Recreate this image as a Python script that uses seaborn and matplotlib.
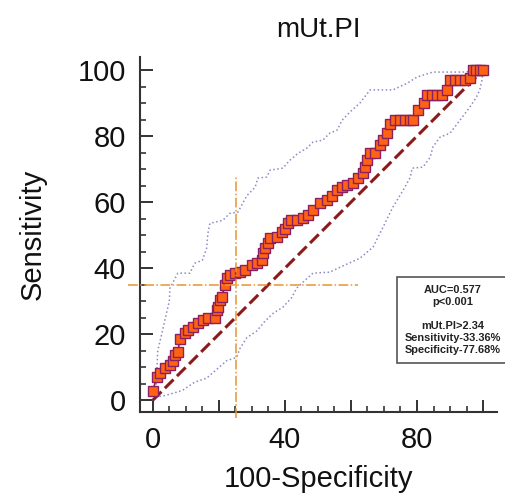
import matplotlib
matplotlib.use("Agg")
import matplotlib.pyplot as plt
from matplotlib.ticker import MultipleLocator
import pandas as pd
import seaborn as sns

# ROC curve points (100-Specificity, Sensitivity)
roc_x = [0, 0, 0, 0, 1.2, 2.1, 3.6, 5.2, 6, 6.7, 7.6, 8.2, 8.2, 8.2, 9.7, 10.6, 12.1,
         13.6, 15.2, 16.7, 18.8, 19.4, 19.7, 20.3, 20.9, 21.8, 21.8, 22.4, 23.3, 24.8,
         26.4, 27.9, 30, 31.5, 33, 33.3, 33.9, 34.8, 35.5, 37.6, 39, 40, 41, 42, 43.6,
         45.5, 47, 48.5, 50.6, 52.7, 54.2, 55.8, 57.3, 58.8, 60.6, 62, 63.6, 64.2, 65,
         65.8, 67.3, 68.8, 69.7, 71, 71.8, 71.8, 73.3, 74.8, 76.3, 77.8, 78.8, 80.3,
         82, 83, 84.5, 86, 87.5, 89, 89, 90, 91.5, 93, 94.5, 96, 96, 97, 98, 99, 100]
roc_y = [0, 2, 4, 5.5, 7, 8.2, 9.7, 10.6, 12, 13.6, 14.5, 16.7, 18.8, 20.3, 20.3, 21.2, 22.1,
         23.3, 24.2, 24.8, 24.8, 27.3, 28.2, 30.3, 31.2, 33.9, 35.8, 37, 37.9, 38.5,
         38.8, 39.4, 40.9, 41.5, 42.4, 44.5, 46, 47.6, 49, 49.4, 51, 52, 53.6, 54.5, 54.5,
         55.2, 56, 57.6, 59.7, 60.6, 62, 63.6, 64.5, 65.2, 65.8, 67.3, 68.8, 70.6, 72.7,
         74.8, 75, 77.3, 78.8, 80.9, 82.7, 84.8, 84.8, 84.8, 84.8, 84.8, 84.8, 88,
         90, 92.4, 92.4, 92.4, 92.4, 92.4, 95.5, 97, 97, 97, 97, 97, 98.5, 100, 100, 100, 100]

# confidence bounds
upper_x = [0, 1, 1.5, 2.7, 3.6, 5, 5.2, 6, 7.6, 11.2, 12.7, 15, 16.3, 16.7, 17.3, 21.2,
           23.3, 25.8, 28.5, 31, 31.8, 34.5, 35.5, 39.4, 41.5, 44, 46.7, 48.5, 51.5,
           53.6, 55.8, 57.3, 59.7, 62.7, 65.8, 72.7, 77, 80, 84.8, 94, 100]
upper_y = [0, 3, 15, 20, 24, 30, 34, 35.5, 38.5, 38.5, 41.5, 42.4, 46, 50.6, 53.6, 54.5,
           56.6, 57, 62, 64.5, 67.3, 67.6, 69.7, 70.3, 72.7, 74.8, 76.4, 78.2, 78.8,
           80.9, 81.8, 84.8, 87.3, 90, 94, 94, 96, 97.9, 99.4, 99.4, 100]
lower_x = [0, 1, 4, 9, 12.7, 16.3, 22.4, 25.4, 26.4, 28.5, 31.5, 34, 36.4, 39.4, 42,
           43.6, 45.5, 48.5, 53.6, 56.7, 62.7, 66.7, 69.7, 72.7, 75.8, 78, 78.5, 81.8,
           84, 84.8, 87, 90, 93, 96, 98, 99, 99.7, 100]
lower_y = [0, 1, 1.5, 3, 5.5, 6.7, 12, 13, 15.7, 19, 21, 24, 26.3, 28.2, 31,
           34, 35.8, 38.5, 38.8, 40.3, 43, 46.4, 52.4, 58.5, 63.6, 67.6, 70.3, 70.6,
           73.6, 76.7, 79.7, 80.9, 84.8, 88.8, 91.8, 94, 97, 100]

# optimal cut-off crosshair
cut_x = 25.3
cut_y = 34.8
vline_span = [-5.5, 68]
hline_span = [-7.5, 62]

title = "mUt.PI"
stats_text = ("AUC=0.577\np<0.001\n\nmUt.PI>2.34\n"
              "Sensitivity-33.36%\nSpecificity-77.68%")

sns.set_style("ticks")
plt.rcParams['font.family'] = ['Liberation Sans', 'DejaVu Sans']
plt.rcParams['text.color'] = '#111111'
plt.rcParams['axes.labelcolor'] = '#111111'
plt.rcParams['xtick.labelcolor'] = '#111111'
plt.rcParams['ytick.labelcolor'] = '#111111'

fig = plt.figure(figsize=(5.05, 4.99), dpi=100)
ax = fig.add_axes([0.277, 0.174, 0.707, 0.712])

roc = pd.DataFrame({'x': roc_x, 'y': roc_y})
up = pd.DataFrame({'x': upper_x, 'y': upper_y})
lo = pd.DataFrame({'x': lower_x, 'y': lower_y})

sns.lineplot(data=up, x='x', y='y', sort=False, ax=ax, color='#8a8ac8',
             linestyle=':', linewidth=1.1, zorder=2)
sns.lineplot(data=lo, x='x', y='y', sort=False, ax=ax, color='#8a8ac8',
             linestyle=':', linewidth=1.1, zorder=2)
sns.lineplot(x=[0, 100], y=[0, 100], ax=ax, color='#8b1a1a', linewidth=2.2,
             zorder=3).lines[-1].set_dashes([4, 1.6])
sns.lineplot(data=roc, x='x', y='y', sort=False, ax=ax, color='#8b2060',
             linewidth=1.2, marker='s', markersize=7.2,
             markerfacecolor='#ff6212', markeredgecolor='#8b2060',
             markeredgewidth=1.0, zorder=4)

orange = '#e8952e'
ax.plot([cut_x, cut_x], vline_span, color=orange, linestyle='-.',
        linewidth=1.1, clip_on=False, zorder=5)
ax.plot(hline_span, [cut_y, cut_y], color=orange, linestyle='-.',
        linewidth=1.1, clip_on=False, zorder=5)

ax.set_xlim(-3.9, 104.2)
ax.set_ylim(-3.6, 104)
ax.yaxis.set_major_locator(MultipleLocator(20))
ax.xaxis.set_minor_locator(MultipleLocator(5))
ax.yaxis.set_minor_locator(MultipleLocator(5))
ax.set_xticks([0, 20, 40, 60, 80, 100])
ax.set_xticklabels(['0', '', '40', '', '80', ''])
ax.tick_params(which='major', direction='in', length=9, width=1.4,
               color='#333333', labelsize=21, pad=10)
ax.tick_params(which='minor', direction='in', length=4.5, width=1.2,
               color='#333333')
for side in ['top', 'right']:
    ax.spines[side].set_visible(False)
for side in ['left', 'bottom']:
    ax.spines[side].set_linewidth(1.5)
    ax.spines[side].set_color('#333333')

ax.set_xlabel('100-Specificity', fontsize=21, labelpad=8)
ax.set_ylabel('Sensitivity', fontsize=21, labelpad=22)
ax.set_title(title, fontsize=20, pad=14)

fig.text(0.897, 0.359, stats_text, fontsize=7.9, fontweight='bold',
         ha='center', va='center', color='#222222', linespacing=1.25,
         bbox=dict(boxstyle='square,pad=0.7', facecolor='white',
                   edgecolor='#555555', linewidth=1.2))

fig.savefig('out.png', dpi=100)
